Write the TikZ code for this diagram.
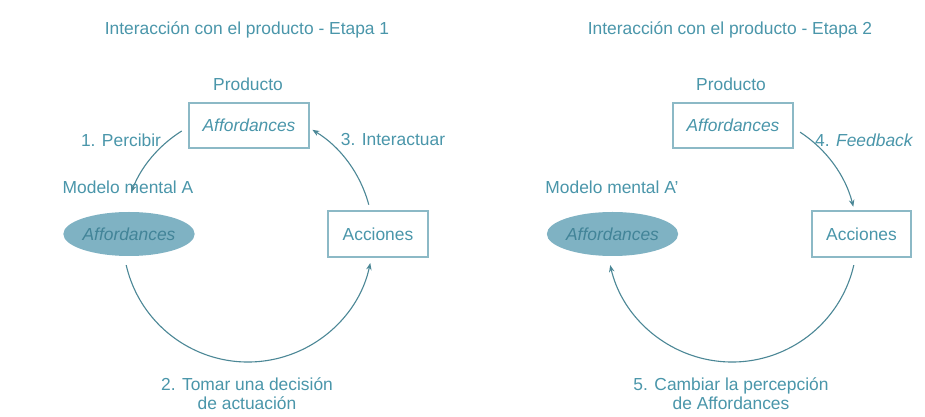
\documentclass[tikz,border=0pt]{standalone}
\usepackage{fontspec}
\setmainfont{Liberation Sans}
\usetikzlibrary{arrows.meta,calc,shapes.geometric}
\definecolor{txt}{RGB}{74,150,170}
\definecolor{lin}{RGB}{75,135,150}
\definecolor{bord}{RGB}{140,185,198}
\definecolor{ellf}{RGB}{127,178,195}
\definecolor{elltxt}{RGB}{66,132,152}
\tikzset{
  lbl/.style={text=txt,font=\fontsize{17.4}{19}\selectfont,inner sep=0pt,align=center},
  boxn/.style={draw=bord,line width=1.1pt,text=txt,font=\fontsize{17.4}{19}\selectfont,minimum width=120pt,minimum height=45pt,inner sep=0pt},
  elln/.style={ellipse,fill=ellf,text=elltxt,font=\fontsize{17.4}{19}\selectfont\itshape,minimum width=128pt,minimum height=44pt,inner sep=0pt},
  conn/.style={draw=lin,line width=1.1pt,-{Stealth[length=7pt,width=5.5pt]}}
}
\begin{document}
\begin{tikzpicture}[x=1pt,y=1pt]
\useasboundingbox (0,0) rectangle (925,417);
\fill[white] (0,0) rectangle (925,417);
% ---------- Panel 1 ----------
\node[lbl] (t1) at (247,387) {Interacción con el producto - Etapa 1};
\node[lbl] (p1) at (248,333) {Producto};
\node[boxn] (b1) at (249,291.5) {\itshape Affordances};
\node[lbl] (l1) at (121,277) {1. Percibir};
\node[lbl] (l3) at (393,277) {3. Interactuar};
\node[lbl] (m1) at (128,230) {Modelo mental A};
\node[elln] (e1) at (129,183) {Affordances};
\node[boxn,minimum width=100pt,minimum height=46pt] (a1) at (378,183) {Acciones};
\node[lbl] (l2) at (247,23) {2. Tomar una decisión\\de actuación};
\coordinate (c1) at (248,180);
\coordinate (s1) at ($(c1)+(122:125)$);
\coordinate (s2) at ($(c1)+(193:125)$);
\coordinate (s3) at ($(c1)+(15:125)$);
\draw[conn] (s1) arc[start angle=122,end angle=159,radius=125];
\draw[conn] (s2) arc[start angle=193,end angle=348,radius=125];
\draw[conn] (s3) arc[start angle=15,end angle=59,radius=125];
% ---------- Panel 2 ----------
\node[lbl] (t2) at (730,387) {Interacción con el producto - Etapa 2};
\node[lbl] (p2) at (731,333) {Producto};
\node[boxn] (b2) at (733,291.5) {\itshape Affordances};
\node[lbl,anchor=west] (l4) at (815,277) {4. \textit{Feedback}};
\node[lbl] (m2) at (612,230) {Modelo mental A\symbol{"0027}};
\node[elln] (e2) at (612.5,183) {Affordances};
\node[boxn,minimum width=99pt,minimum height=46pt] (a2) at (861.5,183) {Acciones};
\node[lbl] (l5) at (731,23) {5. Cambiar la percepción\\de Affordances};
\coordinate (c2) at (732,180);
\coordinate (s4) at ($(c2)+(57:125)$);
\coordinate (s5) at ($(c2)+(347:125)$);
\draw[conn] (s4) arc[start angle=57,end angle=14,radius=125];
\draw[conn] (s5) arc[start angle=347,end angle=193,radius=125];
\end{tikzpicture}
\end{document}
